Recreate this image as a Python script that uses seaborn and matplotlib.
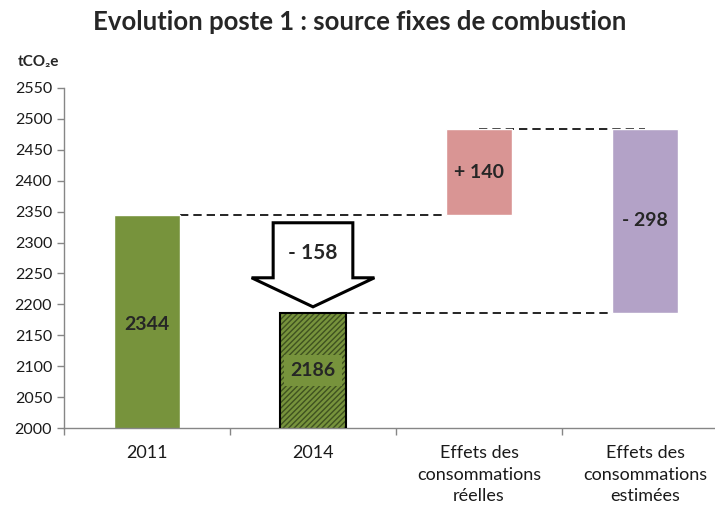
import numpy as np
import matplotlib
matplotlib.use("Agg")
import matplotlib.pyplot as plt
import seaborn as sns
from matplotlib.patches import FancyArrow

# data
categories = ["2011", "2014", "Effets des\nconsommations\nréelles",
              "Effets des\nconsommations\nestimées"]
total_2011 = 2344
total_2014 = 2186
effet_reelles = 140
effet_estimees = -298
y_ticks = list(range(2000, 2551, 50))

green = "#77933C"
dark_green = "#3F5220"
pink = "#D99594"
purple = "#B3A2C7"

sns.set_theme(style="white")
plt.rcParams["font.family"] = ["Lato", "DejaVu Sans"]
plt.rcParams["hatch.linewidth"] = 1.0

fig = plt.figure(figsize=(7.15, 5.05), dpi=100)
ax = fig.add_axes([64 / 715, 77 / 505, 651 / 715, 340 / 505])

# totals drawn with seaborn
totals = [total_2011, total_2014, np.nan, np.nan]
sns.barplot(x=categories, y=totals, hue=categories, order=categories,
            palette=[green, green, pink, purple], legend=False,
            width=0.4, saturation=1, ax=ax, zorder=2)

for p in ax.patches:
    cx = p.get_x() + p.get_width() / 2
    if abs(cx - 1) < 0.1:
        p.set_hatch("//////")
        p.set_edgecolor(dark_green)
        p.set_linewidth(0)
ax.bar(1, total_2014, width=0.4, fill=False, edgecolor="black", linewidth=1.5, zorder=3)

# floating effect bars
top_reelles = total_2011 + effet_reelles
ax.bar(2, effet_reelles, bottom=total_2011, width=0.4, color=pink, zorder=2)
ax.bar(3, effet_estimees, bottom=top_reelles, width=0.4, color=purple, zorder=2)

# connector lines
dash = dict(color="black", linestyle=(0, (5, 3)), linewidth=1.2, zorder=1)
ax.plot([0.2, 2], [total_2011, total_2011], **dash)
ax.plot([2, 3], [top_reelles, top_reelles], **dash)
ax.plot([1.2, 3], [total_2014, total_2014], **dash)

# big arrow for the change 2011 -> 2014
diff = total_2014 - total_2011
arrow_top = total_2011 - 12
arrow_bot = total_2014 + 10
ax.add_patch(FancyArrow(1, arrow_top, 0, arrow_bot - arrow_top, width=0.48,
                        head_width=0.74, head_length=47, length_includes_head=True,
                        facecolor="white", edgecolor="black", linewidth=2.2, zorder=4))
ax.text(1, arrow_top - 49, f"- {abs(diff)}", ha="center", va="center",
        fontsize=15, fontweight="bold", zorder=5)

# bar labels
lab = dict(ha="center", va="center", fontsize=14, fontweight="bold", zorder=5)
ax.text(0, (2000 + total_2011) / 2 - 5, f"{total_2011}", **lab)
ax.text(1, (2000 + total_2014) / 2, f"{total_2014}",
        bbox=dict(boxstyle="square,pad=0.35", facecolor=green, edgecolor="none"), **lab)
ax.text(2, total_2011 + effet_reelles / 2, f"+ {effet_reelles}", **lab)
ax.text(3, top_reelles + effet_estimees / 2, f"- {abs(effet_estimees)}", **lab)

# axes formatting
ax.set_ylim(2000, 2550)
ax.set_xlim(-0.5, -0.5 + 651 / 166)
ax.set_yticks(y_ticks)
ax.set_xticks(range(len(categories)))
ax.set_xticklabels(categories, fontsize=13, color="#1a1a1a", linespacing=1.45)
ax.set_xticks([-0.5, 0.5, 1.5, 2.5], minor=True)
ax.tick_params(axis="y", labelsize=11.5, colors="#1a1a1a", length=5, width=1,
               direction="out", left=True, color="#868686")
ax.tick_params(axis="y", color="#868686")
ax.tick_params(axis="x", which="major", length=0, pad=12)
ax.tick_params(axis="x", which="minor", length=5, width=1, bottom=True, color="#868686")
for s in ["top", "right"]:
    ax.spines[s].set_visible(False)
for s in ["left", "bottom"]:
    ax.spines[s].set_color("#868686")
    ax.spines[s].set_linewidth(1)
ax.set_xlabel("")
ax.set_ylabel("")

fig.text(38 / 715, 1 - 62 / 505, "tCO₂e", ha="center", va="center",
         fontsize=11, fontweight="bold")
fig.text(360 / 715, 1 - 22 / 505, "Evolution poste 1 : source fixes de combustion",
         ha="center", va="center", fontsize=18.5, fontweight="bold")

fig.savefig("out.png", dpi=100)
